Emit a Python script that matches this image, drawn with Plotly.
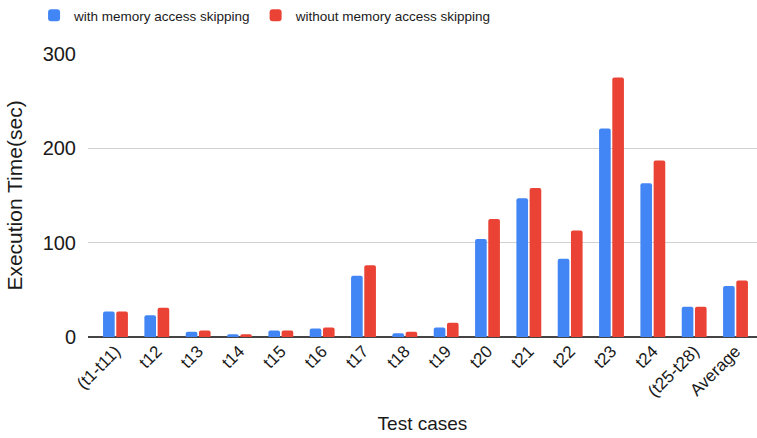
import plotly.graph_objects as go

categories = ["(t1-t11)", "t12", "t13", "t14", "t15", "t16", "t17", "t18",
              "t19", "t20", "t21", "t22", "t23", "t24", "(t25-t28)", "Average"]
with_skipping = [27, 23, 5.5, 3, 7, 9, 65, 4, 10, 104, 147, 83, 221, 163, 32, 54]
without_skipping = [27, 31, 7, 3, 7, 10, 76, 5.5, 15, 125, 158, 113, 275, 187, 32, 60]
y_ticks = [0, 100, 200, 300]

FONT = "Liberation Sans, Arial, sans-serif"
TEXT = "#1a1a1a"

fig = go.Figure()
fig.add_trace(go.Bar(name="with memory access skipping", x=categories, y=with_skipping,
                     marker=dict(color="#4285F4", line=dict(width=0))))
fig.add_trace(go.Bar(name="without memory access skipping", x=categories, y=without_skipping,
                     marker=dict(color="#EA4335", line=dict(width=0))))

fig.update_layout(
    width=757, height=438,
    margin=dict(l=88, r=0, t=54, b=101),
    paper_bgcolor="white", plot_bgcolor="white",
    font=dict(family=FONT, color=TEXT),
    barmode="group", bargap=0.36, bargroupgap=0.12, barcornerradius=2,
    legend=dict(orientation="h", xref="container", yref="container",
                x=0.045, y=1.0, xanchor="left", yanchor="top",
                font=dict(size=13.5, color=TEXT), itemwidth=30,
                traceorder="normal", bgcolor="rgba(0,0,0,0)"),
    xaxis=dict(range=[-0.665, 15.52], tickangle=-45, showgrid=False,
               tickfont=dict(size=17, color=TEXT), ticks="",
               title=dict(text="Test cases", font=dict(size=19, color=TEXT), standoff=16)),
    yaxis=dict(range=[0, 300], tickvals=y_ticks, showgrid=True, gridcolor="#D0D0D0",
               gridwidth=1, zeroline=True, zerolinecolor="#444444", zerolinewidth=1.5,
               tickfont=dict(size=20, color=TEXT), ticks="", ticklen=0, ticklabelstandoff=11,
               title=dict(text="Execution Time(sec)", font=dict(size=21, color=TEXT), standoff=14)),
)

fig.write_html("out.html")
